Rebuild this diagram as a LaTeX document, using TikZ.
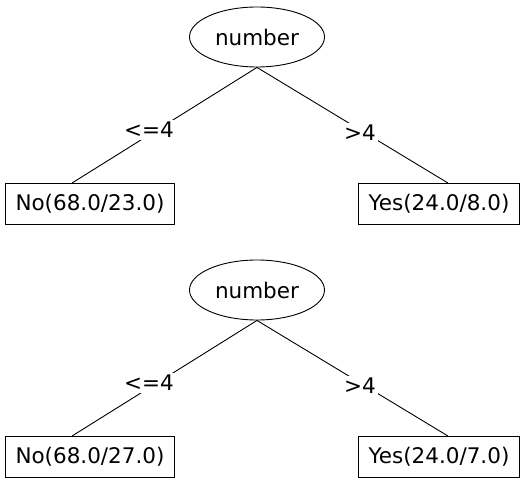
\documentclass[tikz,border=0pt]{standalone}
\usepackage{fontspec}
\setmainfont{DejaVu Sans}
\usetikzlibrary{shapes.geometric}

\begin{document}
\begin{tikzpicture}[x=1pt,y=-1pt,line width=0.9pt,
  font=\fontsize{21.5}{24}\selectfont,
  attr/.style={ellipse,draw,minimum width=135pt,minimum height=60pt,inner sep=0pt},
  leaf/.style={rectangle,draw,inner xsep=10pt,minimum height=41pt},
  elabel/.style={fill=white,inner sep=2pt}]
\useasboundingbox (0,0) rectangle (525,481);

\foreach \t/\dy/\nerr/\yerr in {1/0/23.0/8.0, 2/253/27.0/7.0} {
  \begin{scope}[shift={(0,\dy)}]
  \node[attr] (root\t) at (257,37) {number};
  \node[leaf] (no\t) at (90,204) {No(68.0/\nerr)};
  \node[leaf] (yes\t) at (439,204) {Yes(24.0/\yerr)};
  \draw (root\t.south) -- ([xshift=-18pt]no\t.north);
  \draw (root\t.south) -- ([xshift=9pt]yes\t.north);
  % branch tests
  \node[elabel] (le\t) at (149,130) {<=4};
  \node[elabel] (gt\t) at (360,133) {>4};
  \end{scope}
}
\end{tikzpicture}
\end{document}
